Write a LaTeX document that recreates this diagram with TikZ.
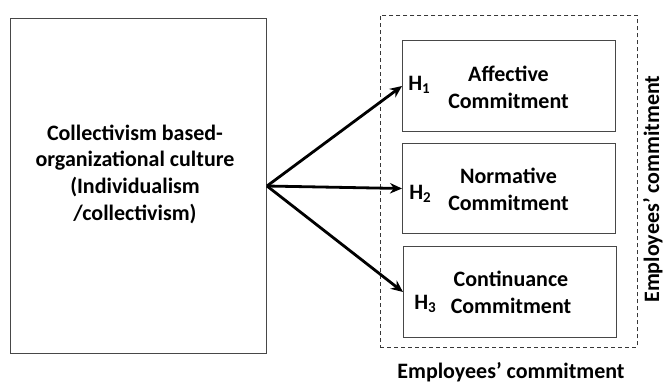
\documentclass[tikz,border=0pt]{standalone}
\usepackage{fontspec}
\setmainfont{Carlito}
\usetikzlibrary{arrows.meta}
\newcommand{\hsub}[1]{H\raisebox{-3.5pt}{\fontsize{15}{15}\selectfont #1}}
\begin{document}
\begin{tikzpicture}[x=1pt,y=-1pt,
  box/.style={draw=black!72, line width=1pt, inner sep=0pt, anchor=north west},
  lbl/.style={font=\fontsize{22}{26.7}\selectfont\bfseries, align=center, inner sep=0pt},
  arr/.style={-{Stealth[length=12pt,width=10.5pt]}, line width=2.8pt},
  grp/.style={draw=black!78, line width=0.9pt, dash pattern=on 4pt off 3pt}
  ]
\useasboundingbox (0,0) rectangle (664,384);
% group box
\node[grp, inner sep=0pt, anchor=north west, minimum width=257pt, minimum height=332pt] (grp) at (380,15) {};
% source
\node[box, minimum width=256pt, minimum height=335pt] (src) at (10,18) {};
\node[lbl] (srct) at (135,174) {Collectivism based-\\organizational culture\\(Individualism\\/collectivism)};
% targets
\node[box, minimum width=213pt, minimum height=91pt] (b1) at (402,40) {};
\node[box, minimum width=213pt, minimum height=90pt] (b2) at (402,143) {};
\node[box, minimum width=213pt, minimum height=91pt] (b3) at (403,246) {};
\node[lbl] (t1) at (508.5,87) {Affective\\Commitment};
\node[lbl] (t2) at (508.5,189) {Normative\\Commitment};
\node[lbl] (t3) at (511,292) {Continuance\\Commitment};
\node[lbl] (h1) at (419,85) {\hsub{1}};
\node[lbl] (h2) at (420,194) {\hsub{2}};
\node[lbl] (h3) at (425,304) {\hsub{3}};
% arrows
\draw[arr] (src.east) -- (b1.west);
\draw[arr] (src.east) -- (b2.west);
\draw[arr] (src.east) -- (b3.west);
% labels
\node[lbl, rotate=90, anchor=base] (side) at (659,189) {Employees’ commitment};
\node[lbl, anchor=base] (bot) at (511,378) {Employees’ commitment};
\end{tikzpicture}
\end{document}
